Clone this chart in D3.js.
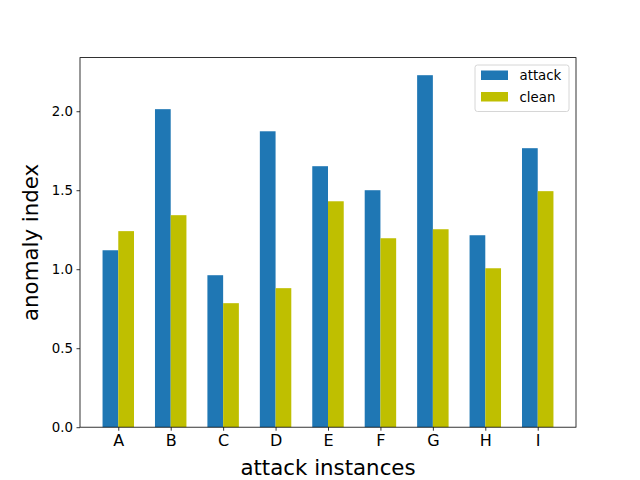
<!DOCTYPE html>
<html>
<head>
<meta charset="utf-8">
<script src="https://cdn.jsdelivr.net/npm/d3@7"></script>
<style>
  body { margin: 0; background: #fff; }
  svg { font-family: "DejaVu Sans", sans-serif; }
</style>
</head>
<body>
<div id="chart"></div>
<script>
// data
const categories = ["A", "B", "C", "D", "E", "F", "G", "H", "I"];
const attackValues = [1.12, 2.013, 0.962, 1.873, 1.652, 1.50, 2.228, 1.215, 1.766];
const cleanValues = [1.241, 1.342, 0.785, 0.880, 1.430, 1.196, 1.253, 1.006, 1.494];
const seriesNames = ["attack", "clean"];
const yTicks = [0.0, 0.5, 1.0, 1.5, 2.0];

const W = 640, H = 480;
const margin = { top: 57.6, right: 64, bottom: 52.8, left: 80 };
const width = W - margin.left - margin.right,
    height = H - margin.top - margin.bottom;
const barW = 0.3;
const colors = { attack: "#1f77b4", clean: "#bfbf00" };

const svg = d3.select("#chart").append("svg")
    .attr("width", W)
    .attr("height", H);

const g = svg.append("g")
    .attr("transform", "translate(" + margin.left + "," + margin.top + ")");

// numeric x like matplotlib: bars at i -/+ 0.15, 5% margins
const xMin = -barW, xMax = categories.length - 1 + barW;
const xPad = (xMax - xMin) * 0.05;
const x = d3.scaleLinear()
    .domain([xMin - xPad, xMax + xPad])
    .range([0, width]);

const yMax = d3.max(attackValues.concat(cleanValues)) * 1.05;
const y = d3.scaleLinear()
    .domain([0, yMax])
    .range([height, 0]);

const series = [
    { name: "attack", values: attackValues, offset: -barW / 2 },
    { name: "clean", values: cleanValues, offset: barW / 2 }
];

series.forEach(s => {
    g.append("g").selectAll("rect")
        .data(s.values)
        .enter()
        .append("rect")
        .attr("x", (d, i) => x(i + s.offset - barW / 2))
        .attr("width", x(barW) - x(0))
        .attr("y", d => y(d))
        .attr("height", d => y(0) - y(d))
        .attr("fill", colors[s.name]);
});

// axes
const xAxis = d3.axisBottom(x)
    .tickValues(d3.range(categories.length))
    .tickFormat(i => categories[i])
    .tickSizeOuter(0)
    .tickSize(3.5)
    .tickPadding(3.5);

const yAxis = d3.axisLeft(y)
    .tickValues(yTicks)
    .tickFormat(d3.format(".1f"))
    .tickSizeOuter(0)
    .tickSize(3.5)
    .tickPadding(3.5);

const gx = g.append("g")
    .attr("transform", "translate(0," + height + ")")
    .call(xAxis);
gx.selectAll("text").attr("font-size", "16px").attr("fill", "#000")
    .attr("font-family", "DejaVu Sans");
gx.select(".domain").remove();

const gy = g.append("g").call(yAxis);
gy.selectAll("text").attr("font-size", "13.33px").attr("fill", "#000")
    .attr("font-family", "DejaVu Sans");
gy.select(".domain").remove();

g.selectAll(".tick line").attr("stroke", "#000").attr("stroke-width", 0.8);

// frame
g.append("rect")
    .attr("width", width)
    .attr("height", height)
    .attr("fill", "none")
    .attr("stroke", "#000")
    .attr("stroke-width", 0.8);

// axis titles
svg.append("text")
    .attr("x", margin.left + width / 2)
    .attr("y", 475)
    .attr("text-anchor", "middle")
    .attr("font-size", "21.33px")
    .text("attack instances");

svg.append("text")
    .attr("transform", "translate(38," + (margin.top + height / 2) + ") rotate(-90)")
    .attr("text-anchor", "middle")
    .attr("font-size", "21.33px")
    .text("anomaly index");

// legend
const legend = g.append("g")
    .attr("transform", "translate(" + (width - 101) + ",7.4)");
legend.append("rect")
    .attr("width", 94)
    .attr("height", 46.5)
    .attr("rx", 2.5)
    .attr("fill", "#fff")
    .attr("fill-opacity", 0.8)
    .attr("stroke", "#cccccc")
    .attr("stroke-width", 0.8);

seriesNames.forEach((name, i) => {
    const row = legend.append("g")
        .attr("transform", "translate(6," + (5.5 + i * 21.5) + ")");
    row.append("rect")
        .attr("width", 27)
        .attr("height", 9.5)
        .attr("fill", colors[name]);
    row.append("text")
        .attr("x", 38.5)
        .attr("y", 9.5)
        .attr("font-size", "13.33px")
        .text(name);
});
</script>
</body>
</html>
